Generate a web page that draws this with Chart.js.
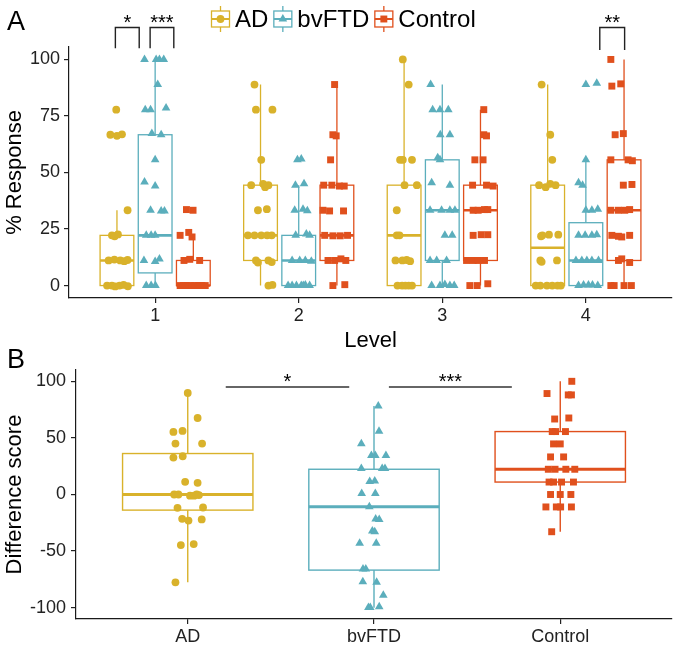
<!DOCTYPE html>
<html>
<head>
<meta charset="utf-8">
<script src="https://cdn.jsdelivr.net/npm/chart.js@4.4.1/dist/chart.umd.min.js"></script>
<style>
html,body{margin:0;padding:0;background:#fff;}
#wrap{position:relative;width:677px;height:645px;overflow:hidden;background:#fff;}
.panel{position:absolute;left:0;}
#pa{top:0;}
#pb{top:330px;}
</style>
</head>
<body>
<div id="wrap">
  <div class="panel" id="pa"><canvas id="chartA" width="677" height="355"></canvas></div>
  <div class="panel" id="pb"><canvas id="chartB" width="677" height="315"></canvas></div>
</div>
<script>
// ---------- data ----------
const levels = [1, 2, 3, 4];
const groups = ['AD', 'bvFTD', 'Control'];
const yTicksA = [0, 25, 50, 75, 100];
const yTicksB = [-100, -50, 0, 50, 100];

// panel A box stats per level: [lower whisker, Q1, median, Q3, upper whisker]
const boxA_AD  = [[0, 0, 11.1, 22.2, 33.3], [0, 11.1, 22.2, 44.4, 88.9], [0, 0, 22.2, 44.4, 100], [0, 0, 16.7, 44.4, 88.9]];
const boxA_FTD = [[0, 5.6, 22.2, 66.7, 100], [0, 0, 11.1, 22.2, 44.4], [0, 11.1, 33.3, 55.6, 88.9], [0, 0, 11.1, 27.8, 55.6]];
const boxA_CTL = [[0, 0, 0, 11.1, 22.2], [0, 11.1, 22.2, 44.4, 88.9], [0, 11.1, 33.3, 44.4, 77.8], [0, 11.1, 33.3, 55.6, 100]];

// panel A % response per subject, per level
const respAD = [
  [77.8, 66.7,66.2,66.9, 33.3, 22.2,21.8,22.6, 11.1,11.5,11.1,10.8,11.3, 0,0,-0.4,0,0.3,-0.3],
  [88.9, 77.8,77.8, 55.6, 44.4,43.5,44.4,45, 33.3,33.8, 22.2,22.2,22.2,22.2,22.2, 11.1,10.2,11.1,10.4, 0,0.3],
  [100, 88.9, 55.6,55.6,55.6, 44.4,44.4, 33.3, 22.2,22.2, 11.1,11.3,10.8,11.1, 0,0,0,0,0],
  [88.9, 66.7, 55.6, 44.4,43.5,45,44.4, 22.2,22.5,22.5,21.8, 11.1,10.5,11.1, 0,0,0,0,0,0]
];
const respFTD = [
  [100,100,100,100, 88.9, 77.8,77.8,78.5, 67.2,66.7, 55.6, 45.8,44, 33.3,33,33, 22.2,22.2,22.2, 11.1,10.6,11.8, 0,0,0],
  [55.6,56, 44.4,45, 33.3,33.8,33.1, 22.2,22.8,22.2, 11.1,11.1,11.1,10.8, 0,0,0,0.3,0,0,0],
  [88.9, 77.8,77.8,77.8, 66.7,66.7, 56.5,55.6, 45.5,44.4, 33.3,33.3,33.3,33.3, 22.2,22.2, 11.1,11.1,11.1, 0,0,0.5,0,0],
  [88.9,89.5, 55.6, 45.5,44.4, 33.3,33.3,33.8, 22.2,22.2,22.2,22.5, 11.1,11.1,11.1,11.1,11.1, 0,0.3,0.3,0.3,0]
];
const respCTL = [
  [33.6,33.3, 22.2,23.5,21.5, 11.1,11.6,11.1, 0,0,0,0,0,0,0,0,0,0],
  [88.9, 66.7,66.2, 55.6, 44.4,44.4,44,44, 33.3,33,33, 22.2,22,22,22.2, 11.1,11.1,11.8,11.1, 0,0.4],
  [77.8, 66.7,66.2, 55.6,55.6, 44.4,44.4,44, 33.3,33.3,33.6,33.6, 22.2,22.5,22.5, 11.1,11.1,11.1,11.1, 0,0,0.8],
  [100, 88.2,89.2, 66.7,67.2, 55.6,55.6,55.2, 44.4,44.7, 33.3,33.3,33.3,33.6, 22.2,21.8,21.5,22.2, 11.1,11.8,10.2, 0,0,0,0]
];
// horizontal jitter of each dot (category units), same order as above
const jitAD = [
  [-0.005, -0.046,0,0.035, 0.074, -0.035,-0.016,0.007, -0.058,-0.018,0.023,0.051,0.074, -0.069,-0.035,-0.012,0.018,0.046,0.076],
  [-0.042, -0.032,0.083, 0.005, -0.065,0.032,0.055,0.018, -0.018,0.044, -0.088,-0.042,0.005,0.046,0.078, -0.032,-0.018,0.055,0.078, 0.055,0.083],
  [-0.009, 0.032, -0.028,-0.009,0.055, 0.003,0.089, -0.051, -0.051,-0.032, -0.06,0.018,0.042,-0.012, -0.014,0.032,0.055,-0.046,0.009],
  [-0.042, 0.018, 0.032, -0.06,-0.014,0.018,0.055, -0.037,0.009,0.074,-0.046, -0.051,-0.042,0.065, -0.083,-0.051,-0.005,0.032,0.069,0.092]
];
const jitFTD = [
  [-0.074,0.007,0.03,0.06, 0.018, -0.069,-0.032,0.076, -0.023,0.042, 0, -0.074,0, -0.032,0.042,0.065, -0.062,-0.028,0, -0.078,0,0.03, -0.062,-0.028,0.002],
  [-0.009,0.018, -0.023,0.037, -0.028,0.03,0.06, -0.021,0.053,0.076, -0.046,0.007,0.046,0.088, -0.074,-0.016,0.018,0.046,0.076,-0.046,0.032],
  [-0.081, -0.067,-0.016,0.042, -0.014,0.053, -0.032,-0.016, -0.074,0.053, -0.085,-0.005,0.053,0.088, 0.018,0.069, -0.085,-0.039,0.03, -0.074,-0.016,0.018,0.053,0.083],
  [0,0.076, 0, -0.051,-0.023, 0,0.042,0.083, -0.051,-0.005,0.042,0.076, -0.069,-0.028,0.007,0.042,0.088, -0.051,-0.016,0.018,0.046,0.083]
];
const jitCTL = [
  [-0.048,-0.002, -0.092,-0.032,-0.009, -0.065,-0.025,0.044, -0.092,-0.069,-0.042,-0.018,0.009,0.032,0.06,0.083,-0.055,0.046],
  [-0.016, -0.028,-0.005, -0.044, -0.092,-0.035,0.018,0.051, -0.097,-0.051,0.046, -0.085,-0.028,0.023,0.074, -0.062,-0.016,0.028,0.062, -0.028,0.055],
  [0.023, 0.023,0.042, -0.039,0.018, -0.055,0.042,0.088, -0.051,-0.016,0.028,0.051, -0.051,0.005,0.051, -0.097,-0.051,-0.016,0.028, -0.074,-0.023,0.051],
  [-0.092, -0.085,-0.023, -0.062,-0.005, -0.092,0.028,0.058, -0.005,0.055, -0.092,-0.039,0.005,0.039, -0.085,-0.039,-0.016,0.039, -0.039,-0.016,0.039, -0.092,-0.069,0,0.051]
];

// panel B box stats per group
const boxB = [[-77.6, -13.8, 0, 36.2, 89.7], [-100, -66.8, -10.9, 22.3, 78.2], [-33, 11, 22.4, 55.6, 100]];
// panel B difference scores + jitter
const diffAD  = [89.7, 67.6, 55.3,56.2, 45,45, 32.6,33.8, 11.2,10.3, 0,0,-1,-1,-0.5,0, -11.8,-11.5, -21.5,-23,-22, -44.7,-43.8, -77.6];
const diffFTD = [78.2, 55.8, 44.9, 34.4,34.4,34.4, 22.9,22.9,22.9, 11.5,12, 0.8,0.8, -10.9, -21.7,-22, -32.3,-32.9, -43.1,-43.1, -65.8,-65.8, -77,-77.6, -89, -99.8,-99.8,-99.2];
const diffCTL = [100, 89.2,88,88, 66.7,67.6, 55.6,55.6,55.6, 44.7,44.7, 33.2,33.2, 22.3,22.3,22.3,22.3, 11,11,11,11, 0,0,0, -11,-11,-11,-11, -32.9];
const jitBAD  = [0,0.053, -0.077,-0.028, -0.066,0.077, -0.077,-0.027, -0.014,0.053, -0.073,-0.05,0.012,0.034,0.06,0.048, -0.055,0.082, -0.03,0.004,0.075, -0.037,0.032, -0.066];
const jitBFTD = [0.023, 0.027, -0.068, -0.014,0.007,0.064, -0.068,0.044,0.059, -0.023,0.004, -0.066,0.007, -0.025, 0.009,0.028, -0.009,0.004, -0.077,0.012, -0.059,-0.044, -0.06,0.014, 0.05, -0.03,-0.02,0.028];
const jitBCTL = [0.062, -0.071,0.043,0.06, -0.03,0.046, -0.043,-0.025,0.028, -0.036,0, -0.052,0.018, -0.064,-0.028,0.03,0.078, -0.06,-0.036,0.007,0.071, -0.052,0,0.057, -0.077,-0.021,0.002,0.06, -0.046];

// significance marks
const sigA = [
  {x1: 0.723, x2: 0.889, top: 114.1, leg: 105, text: '*'},
  {x1: 0.965, x2: 1.13, top: 114.1, leg: 105, text: '***'},
  {x1: 4.097, x2: 4.27, top: 114.1, leg: 104.2, text: '**'}
];
const sigB = [
  {x1: 1.204, x2: 1.867, y: 95, text: '*'},
  {x1: 2.08, x2: 2.74, y: 95, text: '***'}
];

// ---------- styling ----------
const FONT = "'Liberation Sans', Arial, Helvetica, sans-serif";
Chart.defaults.font.family = FONT;
const groupColors = ['#D9B22B', '#5BAEBC', '#E0501D'];
const groupShapes = ['circle', 'triangle', 'rect'];
const pointRad = [3.9, 5, 4.9];
const dodgeA = [-0.266, 0, 0.266];
const axisCol = '#1a1a1a', tickCol = '#222';

const boxA = [boxA_AD, boxA_FTD, boxA_CTL];
const respA = [respAD, respFTD, respCTL];
const jitA = [jitAD, jitFTD, jitCTL];
const diffB = [diffAD, diffFTD, diffCTL];
const jitB = [jitBAD, jitBFTD, jitBCTL];

function drawShape(ctx, shape, x, y, r){
  ctx.beginPath();
  if(shape==='circle'){ ctx.arc(x,y,r,0,Math.PI*2); }
  else if(shape==='triangle'){
    ctx.moveTo(x, y-r); ctx.lineTo(x+r*0.866, y+r*0.5); ctx.lineTo(x-r*0.866, y+r*0.5); ctx.closePath();
  } else { const s=r*0.707; ctx.rect(x-s,y-s,2*s,2*s); }
  ctx.fill();
}

const boxPlugin = {
  id: 'boxes',
  beforeDatasetsDraw(chart, args, opts){
    const {ctx, scales:{x,y}} = chart;
    ctx.save();
    opts.items.forEach(b=>{
      const xl=x.getPixelForValue(b.x-b.half), xr=x.getPixelForValue(b.x+b.half), xc=x.getPixelForValue(b.x);
      const [lo,q1,md,q3,hi] = b.stats.map(v=>y.getPixelForValue(v));
      ctx.strokeStyle=b.color; ctx.lineWidth=opts.lw;
      ctx.beginPath(); ctx.moveTo(xc,lo); ctx.lineTo(xc,q1); ctx.moveTo(xc,q3); ctx.lineTo(xc,hi); ctx.stroke();
      ctx.fillStyle='#fff'; ctx.fillRect(xl,q3,xr-xl,q1-q3);
      ctx.strokeRect(xl,q3,xr-xl,q1-q3);
      ctx.lineWidth=opts.mlw;
      ctx.beginPath(); ctx.moveTo(xl,md); ctx.lineTo(xr,md); ctx.stroke();
    });
    ctx.restore();
  }
};

const annoA = {
  id: 'annoA',
  afterDraw(chart){
    const {ctx, scales:{x,y}} = chart;
    ctx.save();
    // panel tag
    ctx.fillStyle='#000'; ctx.font='27px '+FONT; ctx.textAlign='left'; ctx.textBaseline='alphabetic';
    ctx.fillText('A', 7, 30);
    // brackets
    ctx.strokeStyle='#222'; ctx.lineWidth=1.4;
    ctx.font='20px '+FONT; ctx.textAlign='center';
    sigA.forEach(s=>{
      const a=x.getPixelForValue(s.x1), b=x.getPixelForValue(s.x2), t=y.getPixelForValue(s.top), l=y.getPixelForValue(s.leg);
      ctx.beginPath(); ctx.moveTo(a,l); ctx.lineTo(a,t); ctx.lineTo(b,t); ctx.lineTo(b,l); ctx.stroke();
      ctx.fillText(s.text,(a+b)/2,t+1.5);
    });
    // legend
    ctx.font='24px '+FONT; ctx.textBaseline='middle'; ctx.textAlign='left';
    let lx=210; const cy=19;
    groups.forEach((g,i)=>{
      const kc=lx+10.5;
      ctx.strokeStyle=groupColors[i]; ctx.fillStyle=groupColors[i]; ctx.lineWidth=1.3;
      ctx.beginPath(); ctx.moveTo(kc,cy-13); ctx.lineTo(kc,cy+13); ctx.stroke();
      ctx.fillStyle='#fff'; ctx.fillRect(kc-9,cy-8,18,16);
      ctx.strokeRect(kc-9,cy-8,18,16);
      ctx.lineWidth=2; ctx.beginPath(); ctx.moveTo(kc-9,cy); ctx.lineTo(kc+9,cy); ctx.stroke();
      ctx.fillStyle=groupColors[i]; drawShape(ctx,groupShapes[i],kc,cy,pointRad[i]);
      ctx.fillStyle='#000'; ctx.fillText(g,lx+25,cy+1);
      lx += 25 + ctx.measureText(g).width + 4;
    });
    ctx.restore();
  }
};

const annoB = {
  id: 'annoB',
  afterDraw(chart){
    const {ctx, scales:{x,y}} = chart;
    ctx.save();
    ctx.fillStyle='#000'; ctx.font='27px '+FONT; ctx.textAlign='left'; ctx.textBaseline='alphabetic';
    ctx.fillText('B', 7, 38);
    ctx.strokeStyle='#333'; ctx.lineWidth=1.4; ctx.font='20px '+FONT; ctx.textAlign='center';
    sigB.forEach(s=>{
      const a=x.getPixelForValue(s.x1), b=x.getPixelForValue(s.x2), t=y.getPixelForValue(s.y);
      ctx.beginPath(); ctx.moveTo(a,t); ctx.lineTo(b,t); ctx.stroke();
      ctx.fillText(s.text,(a+b)/2,t+1);
    });
    ctx.restore();
  }
};

function axisCommon(){
  return {
    grid:{drawOnChartArea:false, drawTicks:true, tickLength:5, color:tickCol, lineWidth:1.2},
    border:{display:true, color:axisCol, width:1.2}
  };
}

// ---------- panel A ----------
const dsA = groups.map((g,gi)=>{
  const pts=[];
  levels.forEach((lv,li)=>respA[gi][li].forEach((v,j)=>pts.push({x: lv+dodgeA[gi]+jitA[gi][li][j], y: v})));
  return {label:g, data:pts, pointStyle:groupShapes[gi], pointRadius:pointRad[gi], backgroundColor:groupColors[gi], borderColor:groupColors[gi], borderWidth:0, showLine:false};
});
const boxItemsA = [];
groups.forEach((g,gi)=>levels.forEach((lv,li)=>boxItemsA.push({x: lv+dodgeA[gi], half:0.1175, stats: boxA[gi][li], color: groupColors[gi]})));

new Chart(document.getElementById('chartA'), {
  type:'scatter',
  data:{datasets:dsA},
  plugins:[boxPlugin, annoA],
  options:{
    responsive:false, animation:false,
    layout:{padding:{top:47, right:1, left:0, bottom:0}},
    plugins:{legend:{display:false}, tooltip:{enabled:false}, boxes:{items:boxItemsA, lw:1.3, mlw:2.6}},
    scales:{
      x:{type:'linear', min:0.4, max:4.6, ...axisCommon(),
        afterBuildTicks:s=>{s.ticks=levels.map(v=>({value:v}));},
        afterFit:s=>{s.height=57;},
        ticks:{font:{size:18}, color:tickCol, padding:2, autoSkip:false, maxRotation:0, callback:v=>String(v)},
        title:{display:true, text:'Level', font:{size:22}, color:'#000', padding:{top:0,bottom:1}}
      },
      y:{type:'linear', min:-5.5, max:105.5, ...axisCommon(),
        afterBuildTicks:s=>{s.ticks=yTicksA.map(v=>({value:v}));},
        afterFit:s=>{s.width=69;},
        ticks:{font:{size:18}, color:tickCol, padding:4, callback:v=>String(v)},
        title:{display:true, text:'% Response', font:{size:22}, color:'#000', padding:{top:2,bottom:0}}
      }
    }
  }
});

// ---------- panel B ----------
const dsB = groups.map((g,gi)=>({
  label:g,
  data: diffB[gi].map((v,j)=>({x: gi+1+jitB[gi][j], y: v})),
  pointStyle:groupShapes[gi], pointRadius:pointRad[gi], backgroundColor:groupColors[gi], borderColor:groupColors[gi], borderWidth:0, showLine:false
}));
const boxItemsB = groups.map((g,gi)=>({x: gi+1, half:0.35, stats: boxB[gi], color: groupColors[gi]}));

new Chart(document.getElementById('chartB'), {
  type:'scatter',
  data:{datasets:dsB},
  plugins:[boxPlugin, annoB],
  options:{
    responsive:false, animation:false,
    layout:{padding:{top:40, right:2, left:0, bottom:0}},
    plugins:{legend:{display:false}, tooltip:{enabled:false}, boxes:{items:boxItemsB, lw:1.4, mlw:3}},
    scales:{
      x:{type:'linear', min:0.4, max:3.6, ...axisCommon(),
        afterBuildTicks:s=>{s.ticks=groups.map((g,i)=>({value:i+1}));},
        afterFit:s=>{s.height=26;},
        ticks:{font:{size:18}, color:tickCol, padding:2, autoSkip:false, maxRotation:0, callback:v=>groups[v-1]}
      },
      y:{type:'linear', min:-110, max:110, ...axisCommon(),
        afterBuildTicks:s=>{s.ticks=yTicksB.map(v=>({value:v}));},
        afterFit:s=>{s.width=76;},
        ticks:{font:{size:18}, color:tickCol, padding:5, callback:v=>String(v)},
        title:{display:true, text:'Difference score', font:{size:22}, color:'#000', padding:{top:2,bottom:0}}
      }
    }
  }
});
</script>
</body>
</html>
